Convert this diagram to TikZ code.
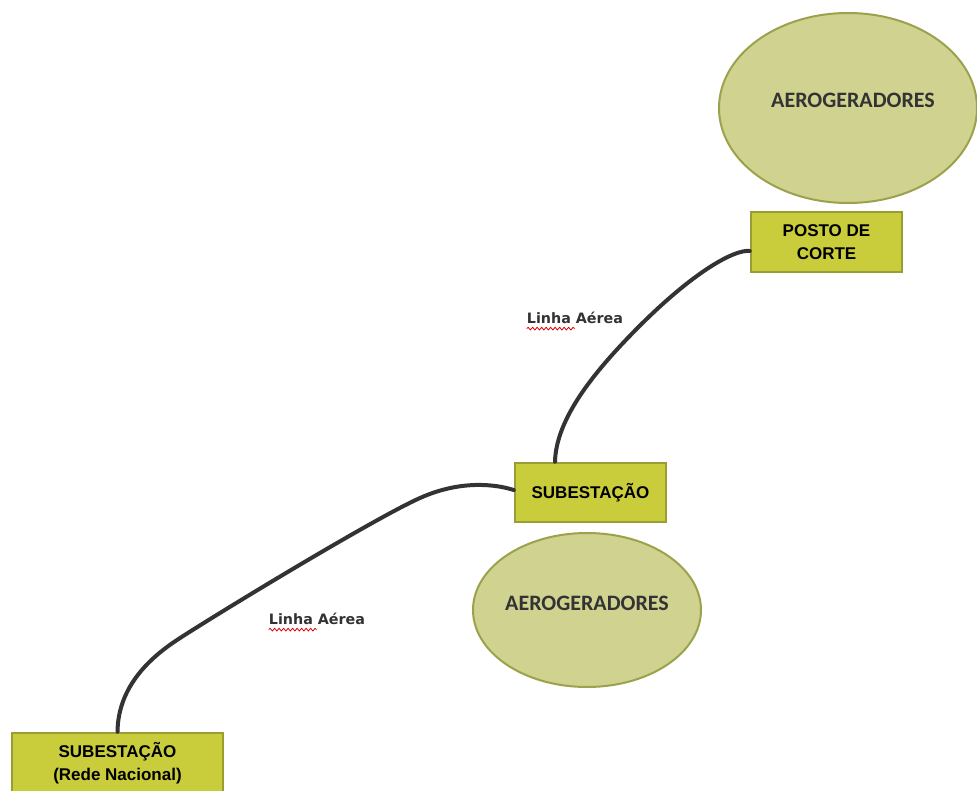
\documentclass[tikz,border=0pt]{standalone}
\usepackage{fontspec}
\usetikzlibrary{shapes.geometric,decorations.pathmorphing}
\setmainfont{Liberation Sans}
\newfontfamily\calib{Carlito}
\newfontfamily\lblfont{DejaVu Sans}
\definecolor{boxfill}{HTML}{C9CD3B}
\definecolor{boxline}{HTML}{9A9C34}
\definecolor{ellfill}{HTML}{D0D38F}
\definecolor{ellline}{HTML}{9CA24C}
\definecolor{cable}{HTML}{333333}
\definecolor{ink}{HTML}{333333}
\tikzset{
  boxnode/.style={draw=boxline, line width=2.5pt, fill=boxfill, rectangle, inner sep=0pt,
    align=center, font=\fontsize{17}{23}\selectfont\bfseries},
  windfarm/.style={draw=ellline, line width=2pt, fill=ellfill, ellipse, inner sep=0pt},
  farmtext/.style={font=\calib\fontsize{22}{26}\selectfont\bfseries, text=ink, inner sep=0pt},
  cableline/.style={draw=cable, line width=4pt, line cap=round},
  linelabel/.style={font=\lblfont\fontsize{14.3}{16}\selectfont\bfseries, text=ink, inner sep=0pt},
  spell/.style={draw=red!85!black, line width=0.8pt, decorate,
    decoration={snake, segment length=4.5pt, amplitude=1.3pt}}
}
\begin{document}
\begin{tikzpicture}[x=1pt,y=-1pt]
\useasboundingbox[fill=white] (0,0) rectangle (977,790);
% wind farms
\node[windfarm, minimum width=258pt, minimum height=190pt] (farm1) at (848,108) {};
\node[farmtext] (farm1t) at (853,100) {AEROGERADORES};
\node[windfarm, minimum width=228pt, minimum height=154pt] (farm2) at (587,610) {};
\node[farmtext] (farm2t) at (587,603) {AEROGERADORES};
% boxes
\node[boxnode, minimum width=151pt, minimum height=60pt] (posto) at (826.5,242) {POSTO DE\\CORTE};
\node[boxnode, minimum width=151pt, minimum height=59pt] (sub) at (590.5,492.5) {SUBESTAÇÃO};
\node[boxnode, minimum width=211pt, minimum height=60pt] (rn) at (117.5,763) {SUBESTAÇÃO\\(Rede Nacional)};
% cables
\coordinate (c1) at (623,343);
\coordinate (c2a) at (420,498);
\coordinate (c2b) at (177,640);
\draw[cableline] ([yshift=-9pt]posto.west) .. controls (735,249) and (690,272) .. (c1)
  .. controls (592,376) and (556,420) .. ([xshift=-35.5pt]sub.north);
\draw[cableline] ([yshift=2.5pt]sub.west) .. controls (495,484) and (460,480) .. (c2a)
  .. controls (375,518) and (215,615) .. (c2b)
  .. controls (139,665) and (118,695) .. (rn.north);
% labels
\node[linelabel] (lbl1) at (575,318) {Linha Aérea};
\node[linelabel] (lbl2) at (317,619) {Linha Aérea};
\draw[spell] ([yshift=-5pt]lbl1.base west) -- ([yshift=-5pt,xshift=48pt]lbl1.base west);
\draw[spell] ([yshift=-5pt]lbl2.base west) -- ([yshift=-5pt,xshift=48pt]lbl2.base west);
\end{tikzpicture}
\end{document}
